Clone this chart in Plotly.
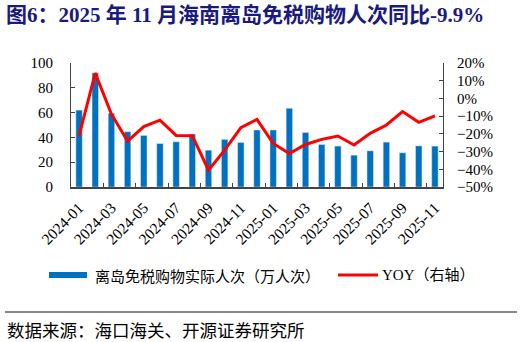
import plotly.graph_objects as go

months = ["2024-01","2024-02","2024-03","2024-04","2024-05","2024-06","2024-07","2024-08",
          "2024-09","2024-10","2024-11","2024-12","2025-01","2025-02","2025-03","2025-04",
          "2025-05","2025-06","2025-07","2025-08","2025-09","2025-10","2025-11"]
visitors = [62, 92, 59.5, 44.6, 41.6, 35.1, 36.5, 42.7, 29.7, 38.4, 35.9, 46.0,
            46.0, 63.5, 44.0, 34.3, 33.0, 25.7, 29.2, 36.2, 27.6, 33.2, 33.0]
yoy = [-21.0, 14.3, -8.9, -24.1, -15.9, -12.3, -20.9, -21.0, -40.5, -29.2, -16.5, -11.8,
       -25.4, -31.1, -26.0, -23.1, -21.2, -26.3, -19.7, -15.0, -7.4, -13.5, -9.9]

bar_name = "离岛免税购物实际人次（万人次）"
line_name = "YOY（右轴）"
BLUE = "#0070C0"
RED = "#FF0000"
FONT = "Liberation Serif, Noto Sans CJK SC"
CJK = "Noto Sans CJK SC"

# plot area in pixels (for converting legend decoration positions to paper coords)
L, R, T, B = 71, 443, 63, 187
px = lambda x: (x - L) / (R - L)
py = lambda y: (B - y) / (B - T)

fig = go.Figure()
fig.add_trace(go.Bar(x=months, y=visitors, marker_color=BLUE, width=0.4,
                     showlegend=False, name=bar_name))
fig.add_trace(go.Scatter(x=months, y=yoy, yaxis="y2", mode="lines",
                         line=dict(color=RED, width=3), showlegend=False, name=line_name))

fig.update_layout(
    width=522, height=342,
    margin=dict(l=L, r=522 - R, t=T, b=342 - B),
    paper_bgcolor="white", plot_bgcolor="white",
    font=dict(family=FONT, size=15, color="black"),
    showlegend=False,
    title=dict(text="<b>图6：2025 年 11 月海南离岛免税购物人次同比-9.9%</b>",
               xref="container", yref="container", x=6/522, y=1-15/342,
               xanchor="left", yanchor="middle",
               font=dict(family=FONT, size=21, color="#1A1A80")),
    xaxis=dict(type="category", tickangle=-45, tickson="boundaries", dtick=2,
               ticks="inside", ticklen=4, tickcolor="#444",
               showline=True, linecolor="#444", linewidth=1.5,
               showgrid=False, tickfont=dict(size=15.5), range=[-0.5, 22.5],
               ticklabelstandoff=4),
    yaxis=dict(range=[0, 100], dtick=20, showgrid=False, showline=True,
               linecolor="#444", linewidth=1, ticks="inside", ticklen=4,
               tickcolor="#444", zeroline=False, ticklabelstandoff=14),
    yaxis2=dict(range=[-50, 20], dtick=10, ticksuffix="%", overlaying="y", side="right",
                showgrid=False, showline=True, linecolor="#444", linewidth=1,
                ticks="inside", ticklen=4, tickcolor="#444", zeroline=False,
                ticklabelstandoff=10),
    bargap=0.6,
    shapes=[
        dict(type="line", xref="paper", yref="paper", x0=px(5), x1=px(517),
             y0=py(312), y1=py(312), line=dict(color="#888", width=2)),
        # legend symbols
        dict(type="rect", xref="paper", yref="paper", x0=px(49), x1=px(87),
             y0=py(278), y1=py(272), fillcolor=BLUE, line=dict(width=0)),
        dict(type="line", xref="paper", yref="paper", x0=px(338), x1=px(378),
             y0=py(275), y1=py(275), line=dict(color=RED, width=3)),
    ],
    annotations=[
        dict(text=bar_name, xref="paper", yref="paper", x=px(93), y=py(275),
             xanchor="left", yanchor="middle", showarrow=False,
             font=dict(family=CJK, size=15, color="black")),
        dict(text=line_name, xref="paper", yref="paper", x=px(380), y=py(275),
             xanchor="left", yanchor="middle", showarrow=False,
             font=dict(family=FONT, size=15, color="black")),
        dict(text="数据来源：海口海关、开源证券研究所", xref="paper", yref="paper",
             x=px(5), y=py(329), xanchor="left", yanchor="middle", showarrow=False,
             font=dict(family=CJK, size=17.5, color="black")),
    ],
)

fig.write_html("out.html")
